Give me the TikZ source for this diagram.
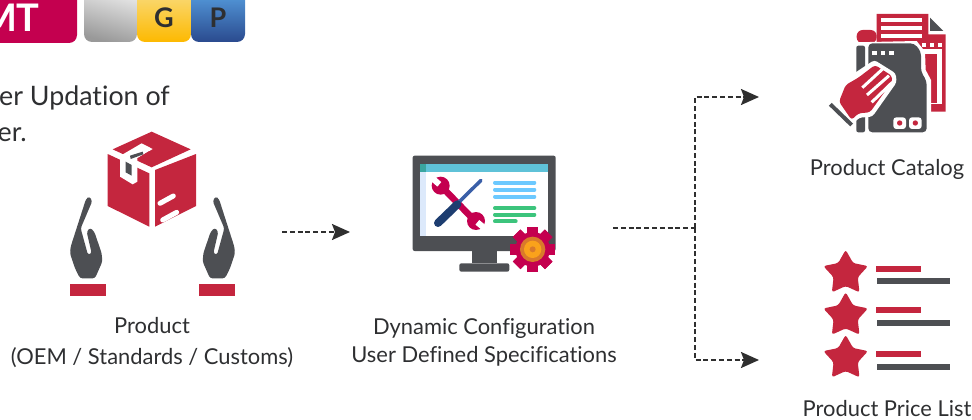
\documentclass[tikz,border=0pt]{standalone}
\usepackage{fontspec}
\setmainfont{Lato}[Ligatures=NoCommon]
\usetikzlibrary{positioning,arrows.meta,shapes.geometric}
\definecolor{brandred}{HTML}{C4263E}
\definecolor{crimson}{HTML}{C4004F}
\definecolor{icongrey}{HTML}{4D4F53}
\definecolor{txtgrey}{HTML}{2E2F31}
\definecolor{skybar}{HTML}{6CC9FF}
\definecolor{greenbar}{HTML}{3CC47C}
\definecolor{screenbar}{HTML}{5FC2D8}
\definecolor{screencorner}{HTML}{3AA6A0}
\definecolor{screenside}{HTML}{DCE9FB}
\definecolor{driverblue}{HTML}{3A5FA8}
\definecolor{handleblue}{HTML}{1D3D70}
\definecolor{gearring}{HTML}{D97A2B}
\definecolor{gearmid}{HTML}{FAA21B}
\definecolor{linedark}{HTML}{2F2F2F}

\begin{document}
\begin{tikzpicture}[
x=1pt, y=-1pt,
% node styles
lbl/.style={text=txtgrey, font=\fontsize{21.9}{26}\selectfont, inner sep=0pt, align=center},
headtxt/.style={text=txtgrey, font=\fontsize{26.8}{30}\selectfont, inner sep=0pt, anchor=base east},
badge/.style={rounded corners=8pt},
badgetxt/.style={text=txtgrey, font=\bfseries\fontsize{27}{30}\selectfont, inner sep=0pt},
redfill/.style={fill=brandred},
greyfill/.style={fill=icongrey},
slit/.style={draw=white, line width=5pt, line cap=round},
listbar/.style={draw=#1, line width=4pt, line cap=round},
ratestar/.style={star, star points=5, star point ratio=1.85, fill=brandred, minimum size=47pt, inner sep=0pt, rounded corners=2.5pt},
dashline/.style={draw=linedark, line width=2pt, dash pattern=on 5pt off 2.8pt},
tip/.style={-{Stealth[length=18pt, width=16pt, inset=3pt]}}
]
\useasboundingbox (0,0) rectangle (972,420);
\clip (0,0) rectangle (972,420);

% badges on top
\fill[badge, fill=crimson] (-30,-15) rectangle (77,43);
\node[text=white, font=\bfseries\fontsize{38}{40}\selectfont, inner sep=0pt, anchor=base east] (badge_mt) at (40,32) {MT};
\shade[badge, top color=black!6, bottom color=black!40, shading angle=-15] (84,-15) rectangle (137,42);
\shade[badge, top color={rgb,255:red,249;green,223;blue,139}, bottom color={rgb,255:red,253;green,185;blue,0}] (137,-15) rectangle (191,42);
\shade[badge, top color={rgb,255:red,91;green,167;blue,232}, bottom color={rgb,255:red,42;green,74;blue,142}] (191,-15) rectangle (245,42);
\node[badgetxt] (badge_g) at (164,18) {G};
\node[badgetxt] (badge_p) at (218,18) {P};

% heading
\node[headtxt] (head_a) at (170,105) {er Updation of};
\node[headtxt] (head_b) at (27,141) {er.};

% product icon
\begin{scope}[shift={(60,125)}, scale=1/3]
\fill[redfill] (275,20) -- (392,73) -- (275,127) -- (158,73) -- cycle;
\fill[redfill] (143,87) -- (268,145) -- (268,305) -- (143,243) -- cycle;
\fill[redfill] (285,135) -- (408,87) -- (408,243) -- (285,305) -- cycle;
\fill[white] (180,93) -- (245,55) -- (278,72) -- (232,100) -- (232,170) -- (218,178) -- (180,155) -- cycle;
\fill[greyfill] (210,92) -- (248,80) -- (250,88) -- (212,102) -- cycle;
\fill[greyfill] (197,110) -- (215,120) -- (215,152) -- (197,142) -- cycle;
\fill[redfill] (232,100) -- (268,78) -- (278,85) -- (240,108) -- cycle;
\draw[slit] (300,235) -- (340,213);
\draw[slit] (308,285) -- (350,262);
\foreach \flip/\off in {1/0, -1/555}{
  \begin{scope}[xshift=\off, xscale=\flip]
  \fill[greyfill, rounded corners=2.5pt] (88,214) -- (97,228) -- (62,310) -- (84,390) -- (95,385) -- (80,320) -- (90,308) -- (103,320) -- (125,385) -- (127,410) -- (105,460) -- (60,460) -- (45,430) -- (30,385) -- (32,365) -- (78,222) -- cycle;
  \end{scope}
}
\fill[redfill] (30,477) rectangle (138,513);
\fill[redfill] (417,477) rectangle (525,513);
\end{scope}

% monitor icon
\begin{scope}[shift={(400,145)}, scale=1/3]
\fill[greyfill, rounded corners=2pt] (38,32) rectangle (467,318);
\fill[greyfill] (215,318) rectangle (292,355);
\fill[greyfill, rounded corners=2pt] (178,355) rectangle (328,380);
\fill[white] (60,57) rectangle (445,272);
\fill[screenside] (60,80) rectangle (78,272);
\fill[screenbar] (60,57) rectangle (445,80);
\fill[screencorner] (60,57) rectangle (78,80);
\foreach \y in {113,134,155} \draw[listbar=skybar] (285,\y) -- (403,\y);
\foreach \y/\xend in {189/403,209/403,229/347} \draw[listbar=greenbar] (285,\y) -- (\xend,\y);
% wrench and screwdriver
\draw[crimson, line width=6.5pt] (125,125) -- (225,228);
\fill[crimson] (122,122) circle (27);
\fill[crimson] (228,228) circle (27);
\draw[white, line width=6pt] (118,118) -- (88,92);
\draw[white, line width=6pt] (232,232) -- (264,258);
\draw[driverblue, line width=3.5pt, line cap=round] (243,106) -- (170,178);
\draw[handleblue, line width=8pt, line cap=round] (172,178) -- (114,234);
% gear
\foreach \a in {0,45,...,315}
  \fill[crimson, rotate around={\a:(398,313)}] (382,245) rectangle (414,381);
\fill[crimson] (398,313) circle (52);
\fill[gearring] (398,313) circle (38);
\fill[gearmid] (398,313) circle (26);
\fill[gearring] (398,313) circle (9);
\end{scope}

% catalog icon
\begin{scope}[shift={(815,5)}, scale=1/3]
\fill[redfill] (185,27) -- (340,27) -- (340,88) -- (392,88) -- (392,320) -- (345,320) -- (345,300) -- (300,300) -- (300,115) -- (185,115) -- cycle;
\fill[greyfill] (345,38) -- (385,78) -- (345,78) -- cycle;
\foreach \y in {40,63,88} \fill[white] (197,\y) rectangle (320,\y+12);
\foreach \x in {320,345,370} \fill[white] (\x,113) rectangle (\x+12,125);
\fill[white] (320,133) rectangle (380,298);
\fill[redfill] (320,147) rectangle (366,295);
\fill[redfill, rounded corners=6pt] (125,75) -- (185,75) -- (185,115) -- (125,115) -- cycle;
\fill[white] (118,112) -- (305,108) -- (330,140) -- (332,195) -- (348,225) -- (348,390) -- (118,390) -- cycle;
\fill[greyfill, rounded corners=2pt] (124,122) -- (150,122) -- (150,382) -- (124,382) -- cycle;
\fill[greyfill, rounded corners=4pt] (160,115) -- (298,115) -- (318,140) -- (318,200) -- (335,228) -- (335,382) -- (160,382) -- cycle;
\foreach \x in {172,197,222} \fill[white] (\x,138) rectangle (\x+14,150);
\foreach \x in {235,282}{
  \fill[white, rounded corners=3pt] (\x,337) rectangle (\x+38,372);
  \fill[redfill] (\x+19,354) circle (8);
}
% hand
\fill[white, rounded corners=3pt] (58,292) -- (80,230) -- (125,200) -- (178,165) -- (242,205) -- (245,232) -- (172,335) -- (132,338) -- (110,362) -- cycle;
\fill[redfill, rounded corners=3pt] (72,290) -- (92,240) -- (130,218) -- (180,180) -- (230,212) -- (232,228) -- (165,322) -- (130,325) -- (110,345) -- cycle;
\foreach \xa/\ya/\xb/\yb in {205/190/142/248, 222/212/156/270, 232/232/170/292}
  \draw[white, line width=3pt] (\xa,\ya) -- (\xb,\yb);
\draw[white, line width=7pt] (40,305) -- (112,372);
\draw[icongrey, line width=4pt] (46,298) -- (110,360);
\end{scope}

% price list icon
\begin{scope}[shift={(815,245)}, scale=1/3]
\node[ratestar] (star_a) at (92,85) {};
\node[ratestar] (star_b) at (92,212) {};
\node[ratestar] (star_c) at (92,340) {};
\foreach \ya/\yb in {63/99, 186/225, 318/357}{
  \fill[redfill] (183,\ya) rectangle (318,\ya+18);
  \fill[greyfill] (186,\yb) rectangle (405,\yb+18);
}
\end{scope}

% labels
\node[lbl] (prod_lbl) at (152,343) {Product\\[5pt](OEM / Standards / Customs)};
\node[lbl] (config_lbl) at (484,342) {Dynamic Configuration\\[2pt]User Defined Specifications};
\node[lbl] (cat_lbl) at (887,169) {Product Catalog};
\node[lbl] (price_lbl) at (887,409) {Product Price List};

% anchors for arrows
\coordinate (prod_out) at (282,232);
\coordinate (config_in) at (350,232);
\coordinate (config_out) at (613,228);
\coordinate (split) at (695,228);
\coordinate (cat_in) at (759,97);
\coordinate (price_in) at (759,360);

% draw lines between nodes
\draw[dashline, tip] (prod_out) -- (config_in);
\draw[dashline] (config_out) -- (split);
\draw[dashline, tip] (split) |- (cat_in);
\draw[dashline, tip] (split) |- (price_in);

\end{tikzpicture}
\end{document}
